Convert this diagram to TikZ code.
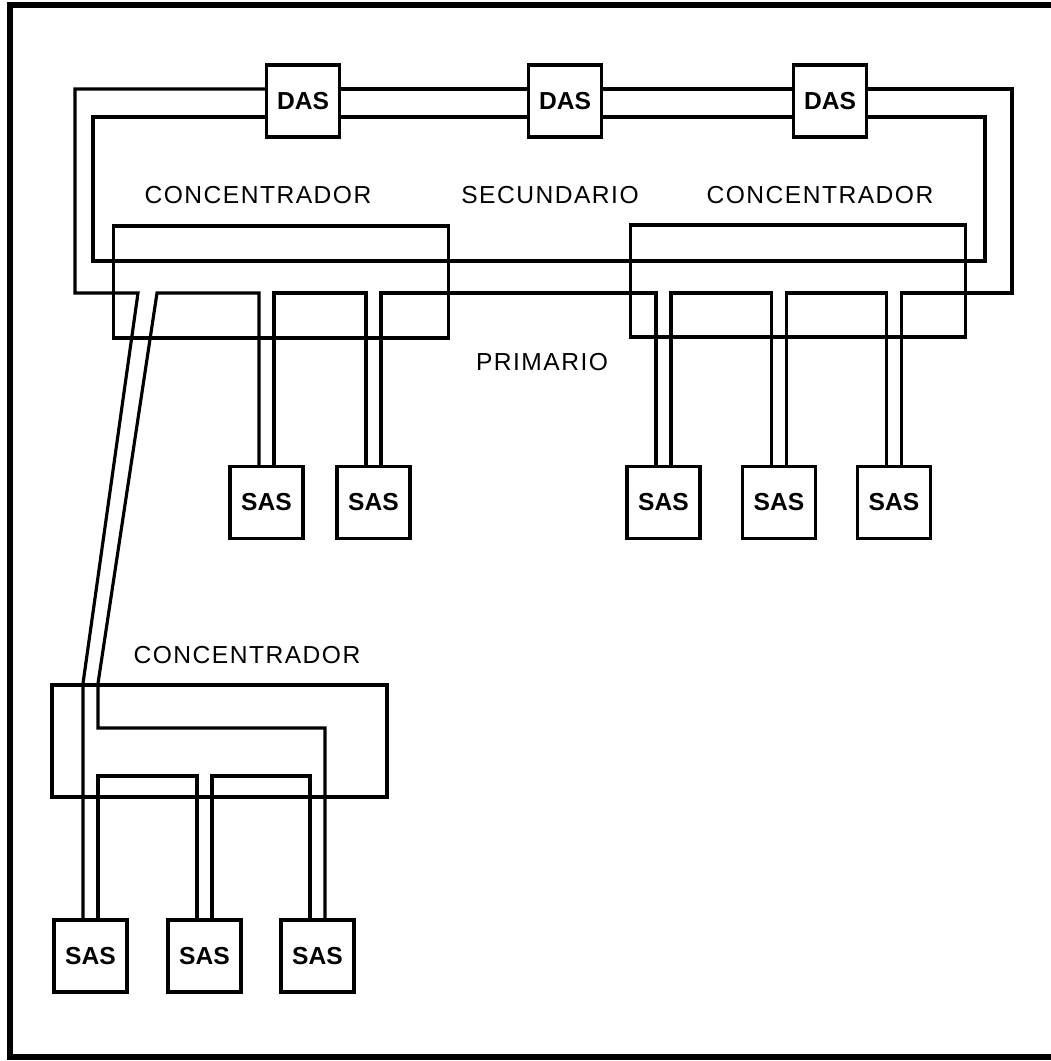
\documentclass[tikz,border=0pt]{standalone}
\usepackage{fontspec}
\setmainfont{Liberation Sans}
\usepackage{tikz}
\usetikzlibrary{positioning}

\begin{document}
\begin{tikzpicture}[line width=0.9pt,
  station/.style={draw,fill=white,minimum width=.73cm,minimum height=.72cm,inner sep=0pt,font=\bfseries\fontsize{7}{8}\selectfont},
  conc/.style={draw,minimum width=3.35cm,minimum height=1.12cm,inner sep=0pt},
  lbl/.style={font=\fontsize{7}{8}\selectfont\addfontfeatures{LetterSpace=6}}]
\useasboundingbox (0,0) rectangle (10.51,10.61);
\draw[line width=1.5pt] (10.51,10.56) -- (0.10,10.56) -- (0.10,0.04) -- (10.51,0.04);

\node[conc] (cl) at (2.81,7.79) {};
\node[conc] (cr) at (7.98,7.80) {};
\node[conc] (bcon) at (2.195,3.20) {};

\node[station] (das1) at (3.03,9.60) {DAS};
\node[station] (das2) at (5.65,9.60) {DAS};
\node[station] (das3) at (8.30,9.60) {DAS};

\node[station] (sas1) at (2.665,5.585) {SAS};
\node[station] (sas2) at (3.735,5.585) {SAS};
\node[station] (sas3) at (6.635,5.585) {SAS};
\node[station] (sas4) at (7.79,5.585) {SAS};
\node[station] (sas5) at (8.94,5.585) {SAS};
\node[station] (sas6) at (0.905,1.05) {SAS};
\node[station] (sas7) at (2.045,1.05) {SAS};
\node[station] (sas8) at (3.175,1.05) {SAS};

\node[lbl] (lcl) at (2.58,8.66) {CONCENTRADOR};
\node[lbl] (lsec) at (5.50,8.66) {SECUNDARIO};
\node[lbl] (lcr) at (8.20,8.66) {CONCENTRADOR};
\node[lbl] (lpri) at (5.42,6.99) {PRIMARIO};
\node[lbl] (lcb) at (2.47,4.06) {CONCENTRADOR};

\coordinate (ptop) at (0,9.72);
\coordinate (stop) at (0,9.44);
\coordinate (pbot) at (0,7.68);
\coordinate (up1) at (1.38,7.68);
\coordinate (up2) at (1.57,7.68);
\coordinate (bl1) at (0,3.33);
\coordinate (bl2) at (0,2.85);
\foreach \s in {1,...,8} {
  \coordinate (l\s) at ([xshift=-.75mm]sas\s.north);
  \coordinate (r\s) at ([xshift=.75mm]sas\s.north);
}

% secundario
\draw (das1.west |- stop) -- (0.93,9.44) -- (0.93,8.00) -- (9.85,8.00) -- (9.85,9.44) -- (das3.east |- stop);
\draw (das1.east |- stop) -- (das2.west |- stop);
\draw (das2.east |- stop) -- (das3.west |- stop);

% primario
\draw (das1.east |- ptop) -- (das2.west |- ptop);
\draw (das2.east |- ptop) -- (das3.west |- ptop);
\draw (das3.east |- ptop) -- (10.12,9.72) |- (r5 |- pbot) -- (r5);
\draw (l5) |- (r4 |- pbot) -- (r4);
\draw (l4) |- (r3 |- pbot) -- (r3);
\draw (l3) |- (r2 |- pbot) -- (r2);
\draw (l2) |- (r1 |- pbot) -- (r1);
\draw (l1) |- (up2) -- (r6 |- bcon.north) |- (r8 |- bl1) -- (r8);
\draw (l8) |- (r7 |- bl2) -- (r7);
\draw (l7) |- (r6 |- bl2) -- (r6);
\draw (l6) -- (l6 |- bcon.north) -- (up1) -- (0.75,7.68) -- (0.75,9.72) -- (das1.west |- ptop);
\end{tikzpicture}
\end{document}
